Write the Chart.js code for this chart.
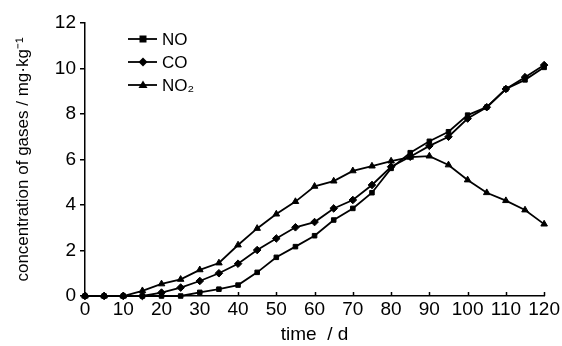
<!DOCTYPE html>
<html>
<head>
<meta charset="utf-8">
<script src="https://cdn.jsdelivr.net/npm/chart.js@4"></script>
<style>
  html, body { margin: 0; padding: 0; background: #fff; }
  #wrap { width: 562px; height: 346px; }
</style>
</head>
<body>
<div id="wrap"><canvas id="myChart" width="562" height="346"></canvas></div>
<script>
const days = [0, 5, 10, 15, 20, 25, 30, 35, 40, 45, 50, 55, 60, 65, 70, 75, 80, 85, 90, 95, 100, 105, 110, 115, 120];
const noValues = [0, 0, 0, 0, 0, 0, 0.16, 0.3, 0.48, 1.04, 1.7, 2.17, 2.65, 3.34, 3.85, 4.54, 5.61, 6.3, 6.8, 7.22, 7.95, 8.3, 9.1, 9.5, 10.05];
const coValues = [0, 0, 0, 0, 0.15, 0.37, 0.66, 1.0, 1.42, 2.02, 2.53, 3.02, 3.25, 3.85, 4.22, 4.88, 5.68, 6.12, 6.6, 7.0, 7.8, 8.3, 9.1, 9.62, 10.15];
const no2Values = [0, 0, 0, 0.23, 0.53, 0.73, 1.15, 1.45, 2.24, 2.97, 3.6, 4.15, 4.82, 5.05, 5.5, 5.71, 5.93, 6.1, 6.15, 5.76, 5.1, 4.54, 4.19, 3.78, 3.16];
const xTicks = [0, 10, 20, 30, 40, 50, 60, 70, 80, 90, 100, 110, 120];
const yTicks = [0, 2, 4, 6, 8, 10, 12];
const seriesNames = ['NO', 'CO', 'NO\u2082'];
const markers = ['rect', 'rectRot', 'triangle'];

const fontName = "'Liberation Sans', Arial, sans-serif";

function toPoints(vals) {
  return days.map((d, i) => ({ x: d, y: vals[i] }));
}

function makeSet(name, vals, marker) {
  return {
    label: name,
    data: toPoints(vals),
    borderColor: '#000',
    backgroundColor: '#000',
    borderWidth: 1.8,
    pointStyle: marker,
    pointRadius: marker === 'rect' ? 3.2 : 3.8,
    pointBorderWidth: 1,
    pointBorderColor: '#000',
    pointBackgroundColor: '#000',
    tension: 0,
    clip: false
  };
}

// marker shapes for the legend
function drawMarker(ctx, style, x, y) {
  ctx.beginPath();
  if (style === 'rect') {
    ctx.rect(x - 3.5, y - 3.5, 7, 7);
  } else if (style === 'rectRot') {
    ctx.moveTo(x, y - 4.5);
    ctx.lineTo(x + 4.5, y);
    ctx.lineTo(x, y + 4.5);
    ctx.lineTo(x - 4.5, y);
    ctx.closePath();
  } else {
    ctx.moveTo(x, y - 4.5);
    ctx.lineTo(x + 4.5, y + 3);
    ctx.lineTo(x - 4.5, y + 3);
    ctx.closePath();
  }
  ctx.fill();
}

const extras = {
  id: 'extras',
  afterDraw(chart) {
    const ctx = chart.ctx;
    const xs = chart.scales.x;
    const area = chart.chartArea;
    ctx.save();
    ctx.strokeStyle = '#000';
    ctx.lineWidth = 1.5;
    // x ticks point inward
    xTicks.forEach(v => {
      const px = Math.round(xs.getPixelForValue(v)) + 0.5;
      ctx.beginPath();
      ctx.moveTo(px, area.bottom);
      ctx.lineTo(px, area.bottom - 4);
      ctx.stroke();
    });
    // legend
    const rows = [39, 62, 85];
    ctx.font = '17px ' + fontName;
    ctx.textBaseline = 'middle';
    ctx.fillStyle = '#000';
    chart.data.datasets.forEach((ds, i) => {
      const y = rows[i];
      ctx.lineWidth = 1.8;
      ctx.beginPath();
      ctx.moveTo(128, y);
      ctx.lineTo(157, y);
      ctx.stroke();
      drawMarker(ctx, markers[i], 143, y);
      ctx.fillText(ds.label, 162, y + 1);
    });
    ctx.restore();
  }
};

new Chart('myChart', {
  type: 'line',
  data: {
    datasets: [
      makeSet(seriesNames[0], noValues, markers[0]),
      makeSet(seriesNames[1], coValues, markers[1]),
      makeSet(seriesNames[2], no2Values, markers[2])
    ]
  },
  options: {
    responsive: false,
    animation: false,
    layout: { padding: { top: 23, right: 16, left: 0, bottom: 0 } },
    plugins: {
      legend: { display: false },
      tooltip: { enabled: false }
    },
    scales: {
      x: {
        type: 'linear',
        min: 0,
        max: 120,
        afterBuildTicks: s => { s.ticks = xTicks.map(v => ({ value: v })); },
        afterFit: s => { s.height = 50; },
        grid: { display: true, drawOnChartArea: false, drawTicks: false },
        border: { display: true, color: '#000', width: 1.5 },
        ticks: { color: '#000', padding: 2, maxRotation: 0, font: { family: fontName, size: 19 } },
        title: {
          display: true,
          text: 'time  / d',
          color: '#000',
          padding: { top: 0, bottom: 0 },
          font: { family: fontName, size: 19 }
        }
      },
      y: {
        min: 0,
        max: 12,
        afterBuildTicks: s => { s.ticks = yTicks.map(v => ({ value: v })); },
        afterFit: s => { s.width = 85; },
        grid: { display: true, drawOnChartArea: false, drawTicks: true, tickLength: 5, color: '#000', lineWidth: 1.5 },
        border: { display: true, color: '#000', width: 1.5 },
        ticks: { color: '#000', padding: 4, font: { family: fontName, size: 19 } },
        title: {
          display: true,
          text: 'concentration of gases / mg\u00b7kg\u207b\u00b9',
          color: '#000',
          padding: { top: 13, bottom: 0 },
          font: { family: fontName, size: 17 }
        }
      }
    }
  },
  plugins: [extras]
});
</script>
</body>
</html>
